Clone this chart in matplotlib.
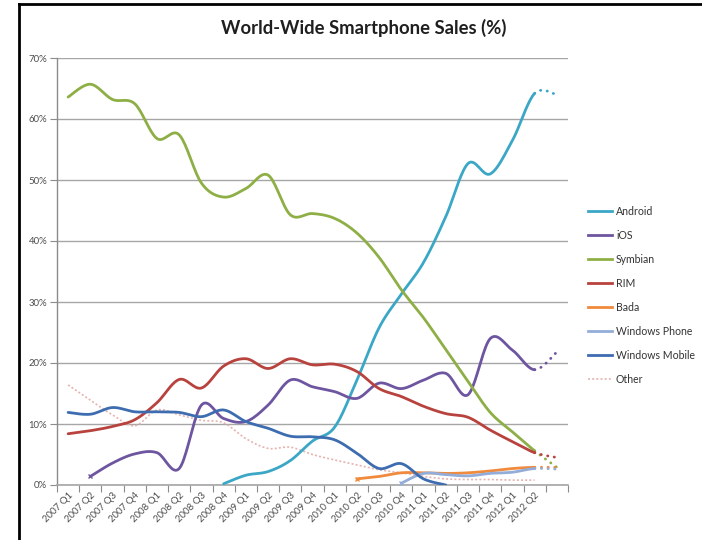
import numpy as np
import matplotlib
matplotlib.use('Agg')
import matplotlib.pyplot as plt
from matplotlib.lines import Line2D

nan = np.nan

# ---------------- data (percent of world-wide smartphone sales) ----------------
quarters = ['2007 Q1', '2007 Q2', '2007 Q3', '2007 Q4',
            '2008 Q1', '2008 Q2', '2008 Q3', '2008 Q4',
            '2009 Q1', '2009 Q2', '2009 Q3', '2009 Q4',
            '2010 Q1', '2010 Q2', '2010 Q3', '2010 Q4',
            '2011 Q1', '2011 Q2', '2011 Q3', '2011 Q4',
            '2012 Q1', '2012 Q2', '']

android = [nan, nan, nan, nan, nan, nan, nan, 0.2, 1.6, 2.2, 4.0, 7.2,
           9.5, 17.2, 25.8, 31.3, 36.5, 44.0, 52.7, 51.0, 56.5, 64.2]
ios = [nan, 1.4, 3.6, 5.1, 5.3, 2.7, 13.1, 10.9, 10.4, 13.1, 17.2, 16.1,
       15.3, 14.2, 16.7, 15.8, 17.2, 18.3, 14.8, 24.0, 22.1, 18.9]
symbian = [63.6, 65.7, 63.2, 62.5, 56.8, 57.4, 49.5, 47.2, 48.6, 50.8, 44.3, 44.5,
           43.7, 41.3, 37.3, 32.0, 27.4, 22.2, 17.0, 11.9, 8.7, 5.6]
rim = [8.4, 8.9, 9.6, 10.7, 13.5, 17.3, 15.9, 19.5, 20.7, 19.1, 20.7, 19.7,
       19.8, 18.6, 15.8, 14.5, 12.9, 11.7, 11.1, 9.0, 7.1, 5.3]
bada = [nan, nan, nan, nan, nan, nan, nan, nan, nan, nan, nan, nan,
        nan, 1.0, 1.4, 2.0, 2.0, 1.9, 2.0, 2.3, 2.7, 2.9]
windows_phone = [nan, nan, nan, nan, nan, nan, nan, nan, nan, nan, nan, nan,
                 nan, nan, nan, 0.3, 1.9, 1.7, 1.5, 1.9, 2.1, 2.7]
windows_mobile = [11.9, 11.6, 12.7, 12.0, 12.0, 11.9, 11.2, 12.3, 10.4, 9.3, 8.0, 7.9,
                  7.4, 5.2, 2.7, 3.5, 1.0, 0.0, nan, nan, nan, nan]
other = [16.4, 13.9, 11.5, 9.7, 12.3, 11.5, 10.6, 10.2, 7.6, 6.0, 6.2, 5.0,
         4.1, 3.3, 2.5, 2.0, 1.4, 1.0, 0.9, 0.9, 0.8, 0.8]

# projected next-quarter values (dotted continuation)
forecast = {'Android': 64.0, 'iOS': 21.8, 'Symbian': 2.9, 'RIM': 4.5,
            'Bada': 2.9, 'Windows Phone': 2.6}

series = [
    ('Android', android, '#3BA7C6', 'solid'),
    ('iOS', ios, '#6E55A0', 'solid'),
    ('Symbian', symbian, '#8EAF45', 'solid'),
    ('RIM', rim, '#B8423D', 'solid'),
    ('Bada', bada, '#F08A3C', 'solid'),
    ('Windows Phone', windows_phone, '#93ADD8', 'solid'),
    ('Windows Mobile', windows_mobile, '#3D6DB0', 'solid'),
    ('Other', other, '#E5B3B0', 'other'),
]

plt.rcParams['font.family'] = ['Lato', 'DejaVu Sans']


def smooth_curve(xs, ys, n=20):
    """Excel-like smoothed line (Catmull-Rom bezier) through given points."""
    xs = np.asarray(xs, float)
    ys = np.asarray(ys, float)
    P = np.column_stack([xs, ys])
    m = len(P)
    if m < 2:
        return xs, ys
    out = []
    t = np.linspace(0, 1, n)[:, None]
    for i in range(m - 1):
        p0 = P[i - 1] if i > 0 else P[i]
        p1 = P[i]
        p2 = P[i + 1]
        p3 = P[i + 2] if i + 2 < m else P[i + 1]
        c1 = p1 + (p2 - p0) / 6.0
        c2 = p2 - (p3 - p1) / 6.0
        seg = ((1 - t) ** 3) * p1 + 3 * ((1 - t) ** 2) * t * c1 + 3 * (1 - t) * t ** 2 * c2 + t ** 3 * p2
        out.append(seg if i == 0 else seg[1:])
    out = np.vstack(out)
    return out[:, 0], out[:, 1]


fig = plt.figure(figsize=(7.02, 5.40), dpi=100)
ax = fig.add_axes([57 / 702, 1 - 485 / 540, (568 - 57) / 702, (485 - 58) / 540])

idx = np.arange(len(quarters))
for name, vals, color, kind in series:
    v = np.asarray(vals, float)
    ok = ~np.isnan(v)
    xs = idx[:len(v)][ok]
    ys = v[ok]
    if name in forecast:
        xs_all = np.append(xs, len(v))
        ys_all = np.append(ys, forecast[name])
    else:
        xs_all, ys_all = xs, ys
    sx, sy = smooth_curve(xs_all, ys_all)
    if kind == 'other':
        ax.plot(sx, sy, color=color, lw=1.2, ls=(0, (1.2, 1.3)), zorder=2)
        continue
    solid = sx <= xs[-1] + 1e-9
    ax.plot(sx[solid], sy[solid], color=color, lw=2.0, solid_capstyle='round',
            solid_joinstyle='round', zorder=3)
    if name in forecast:
        dot = sx >= xs[-1] - 1e-9
        ax.plot(sx[dot], sy[dot], color=color, lw=2.0, ls=(0, (0.1, 2.3)),
                dash_capstyle='round', zorder=3)
    if name in ('iOS', 'Bada', 'Windows Phone'):
        ax.plot(xs[0], ys[0], marker='x', ms=3, mew=1, color=color, zorder=4)

# axes styling
ax.set_xlim(-0.5, len(quarters) - 0.5)
ax.set_ylim(0, 70)
ax.set_yticks(np.arange(0, 71, 10))
ax.set_yticklabels([f'{v}%' for v in range(0, 71, 10)])
ax.set_xticks(np.arange(-0.5, len(quarters), 1.0))
ax.set_xticklabels([])
ax.set_xticks(idx, minor=True)
ax.set_xticklabels(quarters, minor=True, rotation=45, ha='right',
                   rotation_mode='anchor', fontsize=6.9, color='#4D4D4D')
ax.tick_params(axis='x', which='minor', length=0, pad=4)
ax.tick_params(axis='x', which='major', length=5, color='#8C8C8C', direction='out')
ax.tick_params(axis='y', length=5, color='#8C8C8C', direction='out',
               labelsize=6.9, labelcolor='#4D4D4D', pad=2)
ax.grid(axis='y', color='#A6A6A6', lw=1.0, zorder=0)
ax.set_axisbelow(True)
for s in ('top', 'right'):
    ax.spines[s].set_visible(False)
ax.spines['left'].set_color('#8C8C8C')
ax.spines['bottom'].set_color('#A6A6A6')
ax.spines['left'].set_linewidth(1.0)
ax.spines['bottom'].set_linewidth(1.2)

# title
fig.text(364 / 702, 1 - 28 / 540, 'World-Wide Smartphone Sales (%)', ha='center',
         va='center', fontsize=13.3, fontweight='bold', color='#1F1F1F')

# legend
handles = []
for name, vals, color, kind in series:
    if kind == 'other':
        handles.append(Line2D([], [], color=color, lw=1.2, ls=(0, (1.2, 1.3))))
    else:
        handles.append(Line2D([], [], color=color, lw=2.0))
fig.legend(handles, [s[0] for s in series], loc='upper left',
           bbox_to_anchor=(588 / 702, 1 - 206 / 540), frameon=False,
           fontsize=7.6, handlelength=2.3, handletextpad=0.35,
           labelspacing=1.23, borderpad=0, borderaxespad=0,
           labelcolor='#333333')

# outer frame (top & left edges visible in the reference)
fig.add_artist(Line2D([19 / 702, 19 / 702], [0, 1 - 4 / 540], transform=fig.transFigure,
                      color='black', lw=2))
fig.add_artist(Line2D([19 / 702, 1], [1 - 4 / 540, 1 - 4 / 540], transform=fig.transFigure,
                      color='black', lw=2))

fig.savefig('out.png', dpi=100)
